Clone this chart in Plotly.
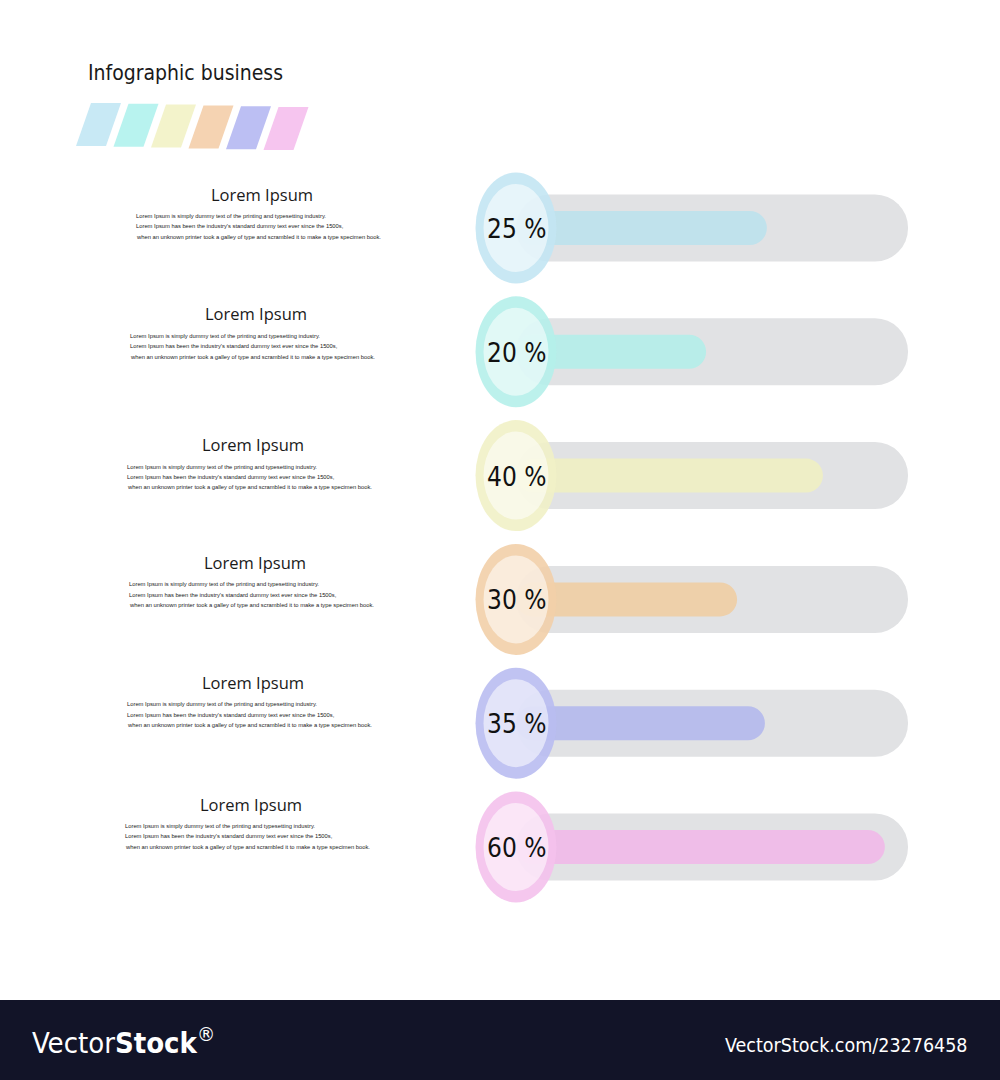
import plotly.graph_objects as go

# ---------------- data ----------------
labels = ["25 %", "20 %", "40 %", "30 %", "35 %", "60 %"]
fill_level = [64.0, 48.5, 78.3, 56.4, 63.5, 94.1]   # bar length, % of the track
track_level = [100, 100, 100, 100, 100, 100]
titles = ["Lorem Ipsum"] * 6
body_lines = [
    "Lorem Ipsum is simply dummy text of the printing and typesetting industry.",
    "Lorem Ipsum has been the industry's standard dummy text ever since the 1500s,",
    "when an unknown printer took a galley of type and scrambled it to make a type specimen book.",
]
heading = "Infographic business"

# ---------------- styles ----------------
ring_colors = ["#c3e6f3", "#b5efea", "#f1f1c6", "#f2cfa8", "#b9bcf1", "#f4c1ec"]
fill_colors = ["#c0e2ec", "#b8ede9", "#eeeec6", "#eed0aa", "#b8bdec", "#efbde8"]
swatch_colors = ["#c8e9f5", "#b8f3ef", "#f3f3cb", "#f5d3b2", "#bcbff3", "#f6c5ef"]
track_color = "#e1e2e4"
W, H = 1000, 1080
COND = "DejaVu Sans Condensed, Liberation Sans Narrow, Liberation Sans, sans-serif"
SANS = "Liberation Sans, Arial, sans-serif"

rows = list(range(len(labels)))
row0_px, row_step = 228.0, 123.8
y_top = -row0_px / row_step
y_bot = (H - row0_px) / row_step

x0_px, x100_px, dom_left_px = 516.0, 908.0, 460.0
unit = (x100_px - x0_px) / 100.0
x_min = -(x0_px - dom_left_px) / unit

fig = go.Figure()
fig.add_trace(go.Bar(
    orientation="h", y=rows, x=track_level, base=0, width=67 / row_step,
    marker=dict(color=track_color, cornerradius=33, line=dict(width=0)),
    hoverinfo="skip", showlegend=False))
fig.add_trace(go.Bar(
    orientation="h", y=rows, x=fill_level, base=0, width=34 / row_step,
    marker=dict(color=fill_colors, cornerradius=17, line=dict(width=0)),
    hoverinfo="skip", showlegend=False))

shapes = []
annotations = []

# circles with percentage labels
for i, lab in enumerate(labels):
    shapes.append(dict(type="circle", xref="x", yref="y", xsizemode="pixel", ysizemode="pixel",
                       xanchor=0, yanchor=i, x0=-40.5, x1=40.5, y0=-55.5, y1=55.5,
                       fillcolor=ring_colors[i], opacity=0.9, line=dict(width=0), layer="above"))
    shapes.append(dict(type="circle", xref="x", yref="y", xsizemode="pixel", ysizemode="pixel",
                       xanchor=0, yanchor=i, x0=-32.5, x1=32.5, y0=-44, y1=44,
                       fillcolor="white", opacity=0.55, line=dict(width=0), layer="above"))
    annotations.append(dict(x=0, y=i, xref="x", yref="y", text=lab, showarrow=False,
                            font=dict(family=COND, size=26, color="#111111"),
                            xanchor="center", yanchor="middle", yshift=-1))

# left text blocks
block_dx = [7, 1, -2, 0, -2, -4]
title_dy = [-34, -38, -31, -37, -41, -43]
for i, t in enumerate(titles):
    annotations.append(dict(x=(255 + block_dx[i]) / W, xref="paper", y=i, yref="y",
                            yshift=-title_dy[i], text=t, showarrow=False,
                            font=dict(family="Open Sans, sans-serif", size=16.5, color="#1a1a1a"),
                            xanchor="center", yanchor="middle"))
    for k, line in enumerate(body_lines):
        annotations.append(dict(x=(127 + block_dx[i]) / W, xref="paper", y=i, yref="y",
                                yshift=-(title_dy[i] + 22 + 10.4 * k), text=line, showarrow=False,
                                font=dict(family=SANS, size=5.8, color="#222222"),
                                xanchor="left", yanchor="middle"))

# heading
annotations.append(dict(x=86 / W, y=1 - 73 / H, xref="paper", yref="paper", text=heading,
                        showarrow=False, font=dict(family=COND, size=21, color="#1a1a1a"),
                        xanchor="left", yanchor="middle"))

# colour swatches (slanted parallelograms)
def px(x, y):
    return f"{x / W:.5f},{1 - y / H:.5f}"

for i, c in enumerate(swatch_colors):
    bl = 76 + i * 37.5
    top = 103 + i * 0.8
    bot = top + 43
    path = (f"M {px(bl, bot)} L {px(bl + 30, bot)} L {px(bl + 45, top)} "
            f"L {px(bl + 15, top)} Z")
    shapes.append(dict(type="path", xref="paper", yref="paper", path=path,
                       fillcolor=c, line=dict(width=0), layer="above"))

# footer band
shapes.append(dict(type="rect", xref="paper", yref="paper", x0=0, x1=1, y0=0, y1=80 / H,
                   fillcolor="#121428", line=dict(width=0), layer="above"))
annotations.append(dict(x=30 / W, y=1 - 1041 / H, xref="paper", yref="paper",
                        text="Vector<b>Stock</b><sup>®</sup>", showarrow=False,
                        font=dict(family=COND, size=29, color="white"),
                        xanchor="left", yanchor="middle"))
annotations.append(dict(x=970 / W, y=1 - 1045 / H, xref="paper", yref="paper",
                        text="VectorStock.com/23276458", showarrow=False,
                        font=dict(family=COND, size=19.5, color="white"),
                        xanchor="right", yanchor="middle"))

fig.update_layout(
    width=W, height=H, margin=dict(l=0, r=0, t=0, b=0),
    paper_bgcolor="white", plot_bgcolor="white", barmode="overlay",
    xaxis=dict(domain=[dom_left_px / W, x100_px / W + 0.004], range=[x_min, 100 + 4 / unit],
               visible=False, fixedrange=True),
    yaxis=dict(domain=[0, 1], range=[y_bot, y_top], visible=False, fixedrange=True),
    shapes=shapes, annotations=annotations, showlegend=False,
)

fig.write_html("out.html")
